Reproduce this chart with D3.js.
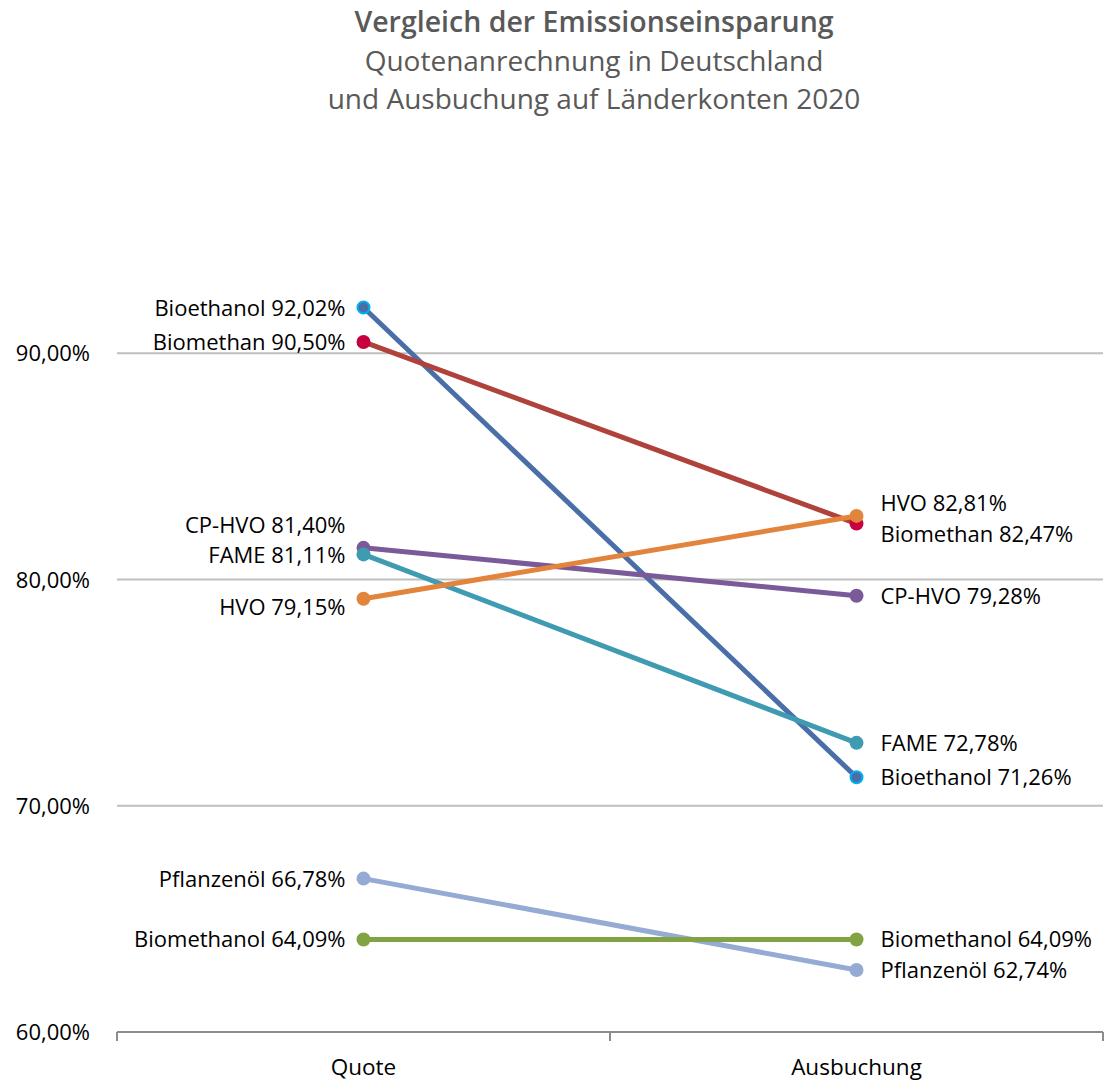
<!DOCTYPE html>
<html>
<head>
<meta charset="utf-8">
<script src="https://cdn.jsdelivr.net/npm/d3@7"></script>
<style>
  body { margin: 0; background: #fff; }
  text { font-family: "Open Sans", Lato, sans-serif; }
</style>
</head>
<body>
<div id="container"></div>
<script>
var width = 1110;
var height = 1081;

// data
var categories = ["Quote", "Ausbuchung"];
var fuels = ["Bioethanol", "Biomethan", "CP-HVO", "FAME", "HVO", "Pflanzenöl", "Biomethanol"];
var quoteValues = [92.02, 90.50, 81.40, 81.11, 79.15, 66.78, 64.09];
var ausbuchungValues = [71.26, 82.47, 79.28, 72.78, 82.81, 62.74, 64.09];
var yTicks = [60, 70, 80, 90];

// styling per fuel
var lineColors = ["#4a6ea8", "#b0423c", "#7b5a99", "#3f9bb2", "#e2843c", "#95abd3", "#82a343"];
var dotColors = ["#4a6ea8", "#c8003f", "#7b5a99", "#3f9bb2", "#e2843c", "#95abd3", "#82a343"];
var dotStroke = ["#00b0f0", null, null, null, null, null, null];
// vertical label nudges (px) to avoid overlap: [left, right]
var labelNudge = [[0, 0], [0, 10], [-23, 0], [1, 0], [8, -13], [0, 0], [0, 0]];

var margin = {left: 117, right: 7, top: 127, bottom: 49};

var svg = d3.select("div#container").append("svg")
    .attr("width", width)
    .attr("height", height);

var x = d3.scaleBand()
    .domain(categories)
    .range([margin.left, width - margin.right]);

var y = d3.scaleLinear()
    .domain([60, 100])
    .range([height - margin.bottom, margin.top]);

var fmt = function(v) { return v.toFixed(2).replace(".", ",") + "%"; };

// title
var title = svg.append("text")
    .attr("text-anchor", "middle")
    .attr("fill", "#595959");
title.append("tspan").attr("x", 594).attr("y", 32)
    .attr("font-size", 28.5).attr("font-weight", 600)
    .text("Vergleich der Emissionseinsparung");
title.append("tspan").attr("x", 594).attr("y", 71)
    .attr("font-size", 28)
    .text("Quotenanrechnung in Deutschland");
title.append("tspan").attr("x", 594).attr("y", 109)
    .attr("font-size", 28)
    .text("und Ausbuchung auf Länderkonten 2020");

// gridlines
svg.append("g")
    .selectAll("line")
    .data(yTicks.filter(function(t) { return t > 60; }))
    .enter()
    .append("line")
    .attr("x1", margin.left)
    .attr("x2", width - margin.right)
    .attr("y1", function(d) { return y(d); })
    .attr("y2", function(d) { return y(d); })
    .attr("stroke", "#bfbfbf")
    .attr("stroke-width", 2);

// y axis labels
svg.append("g")
    .selectAll("text")
    .data(yTicks)
    .enter()
    .append("text")
    .attr("x", 90)
    .attr("y", function(d) { return y(d) + 8; })
    .attr("text-anchor", "end")
    .attr("font-size", 22)
    .attr("fill", "#000")
    .text(function(d) { return d.toFixed(2).replace(".", ",") + "%"; });

// x axis
var xAxis = svg.append("g")
    .attr("transform", "translate(0," + y(60) + ")");
xAxis.append("line")
    .attr("x1", margin.left).attr("x2", width - margin.right)
    .attr("stroke", "#8c8c8c").attr("stroke-width", 2);
var bounds = [margin.left, x("Ausbuchung"), width - margin.right];
xAxis.selectAll("line.tick")
    .data(bounds)
    .enter()
    .append("line")
    .attr("class", "tick")
    .attr("x1", function(d) { return d; })
    .attr("x2", function(d) { return d; })
    .attr("y1", 0).attr("y2", 9)
    .attr("stroke", "#8c8c8c").attr("stroke-width", 2);
xAxis.selectAll("text")
    .data(categories)
    .enter()
    .append("text")
    .attr("x", function(d) { return x(d) + x.bandwidth() / 2; })
    .attr("y", 43)
    .attr("text-anchor", "middle")
    .attr("font-size", 22.5)
    .text(function(d) { return d; });

var cx0 = x("Quote") + x.bandwidth() / 2;
var cx1 = x("Ausbuchung") + x.bandwidth() / 2;

var rows = fuels.map(function(f, i) {
    return {name: f, a: quoteValues[i], b: ausbuchungValues[i], i: i};
});

// slope lines
svg.append("g")
    .selectAll("line")
    .data(rows)
    .enter()
    .append("line")
    .attr("x1", cx0).attr("x2", cx1)
    .attr("y1", function(d) { return y(d.a); })
    .attr("y2", function(d) { return y(d.b); })
    .attr("stroke", function(d) { return lineColors[d.i]; })
    .attr("stroke-width", 5);

// markers
var dots = svg.append("g");
[["a", cx0], ["b", cx1]].forEach(function(p) {
    dots.selectAll("circle." + p[0])
        .data(rows)
        .enter()
        .append("circle")
        .attr("class", p[0])
        .attr("cx", p[1])
        .attr("cy", function(d) { return y(d[p[0]]); })
        .attr("r", function(d) { return dotStroke[d.i] ? 6 : 7; })
        .attr("fill", function(d) { return dotColors[d.i]; })
        .attr("stroke", function(d) { return dotStroke[d.i] || "none"; })
        .attr("stroke-width", 2);
});

// labels
svg.append("g")
    .selectAll("text")
    .data(rows)
    .enter()
    .append("text")
    .attr("x", cx0 - 18)
    .attr("y", function(d) { return y(d.a) + 8 + labelNudge[d.i][0]; })
    .attr("text-anchor", "end")
    .attr("font-size", 22)
    .text(function(d) { return d.name + " " + fmt(d.a); });

svg.append("g")
    .selectAll("text")
    .data(rows)
    .enter()
    .append("text")
    .attr("x", cx1 + 24)
    .attr("y", function(d) { return y(d.b) + 8 + labelNudge[d.i][1]; })
    .attr("text-anchor", "start")
    .attr("font-size", 22)
    .text(function(d) { return d.name + " " + fmt(d.b); });
</script>
</body>
</html>
